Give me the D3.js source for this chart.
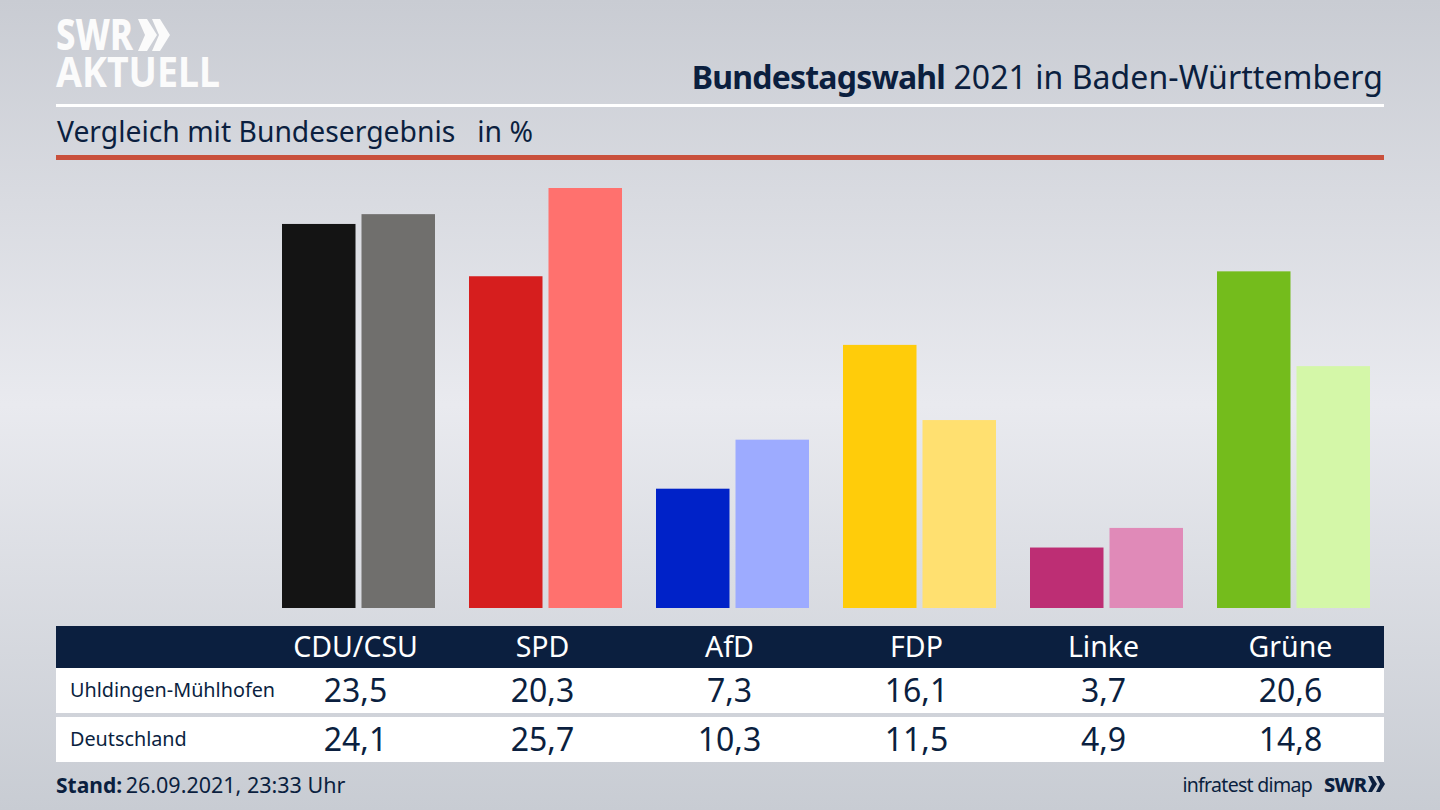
<!DOCTYPE html>
<html lang="de">
<head>
<meta charset="utf-8">
<script src="https://d3js.org/d3.v7.min.js"></script>
<style>
  html, body { margin: 0; padding: 0; background: #d0d3d9; }
  svg { display: block; font-family: "Noto Sans", sans-serif; }
</style>
</head>
<body>
<div id="chart"></div>
<script>
const parties = ['CDU/CSU', 'SPD', 'AfD', 'FDP', 'Linke', 'Grüne'];
const regions = ['Uhldingen-Mühlhofen', 'Deutschland'];
const localValues = [23.5, 20.3, 7.3, 16.1, 3.7, 20.6];
const nationalValues = [24.1, 25.7, 10.3, 11.5, 4.9, 14.8];
const localColors = ['#141414', '#d61e1e', '#0022c8', '#ffcc0a', '#bd2e74', '#74bc1c'];
const nationalColors = ['#706f6d', '#ff716e', '#9dabff', '#ffe070', '#e08ab8', '#d4f7a8'];

const width = 1440, height = 810;
const navy = '#0b1f3f';
const fmt = v => v.toFixed(1).replace('.', ',');

const svg = d3.select('#chart').append('svg')
  .attr('width', width)
  .attr('height', height);

const grad = svg.append('defs').append('linearGradient')
  .attr('id', 'bg').attr('x1', 0).attr('x2', 0).attr('y1', 0).attr('y2', 1);
grad.append('stop').attr('offset', '0%').attr('stop-color', '#c9ccd3');
grad.append('stop').attr('offset', '50%').attr('stop-color', '#e9eaef');
grad.append('stop').attr('offset', '100%').attr('stop-color', '#c8ccd3');
svg.append('rect').attr('width', width).attr('height', height).attr('fill', 'url(#bg)');

// logo
const logo = svg.append('g').attr('fill', '#fbfbfb');
logo.append('text').attr('x', 56).attr('y', 50)
  .attr('textLength', 77).attr('lengthAdjust', 'spacingAndGlyphs')
  .style('font-size', '42px').style('font-weight', 800)
  .text('SWR');
logo.append('text').attr('x', 56).attr('y', 87)
  .attr('textLength', 164).attr('lengthAdjust', 'spacingAndGlyphs')
  .style('font-size', '42px').style('font-weight', 700)
  .text('AKTUELL');
logo.append('path').attr('d', 'M138 19h9l10 16-10 16h-9l7-16zM152 19h8l10 16-10 16h-8l7-16z');

// header
svg.append('text').attr('x', 1383).attr('y', 89).attr('text-anchor', 'end')
  .attr('fill', navy).style('font-size', '32px')
  .call(t => t.append('tspan').style('font-weight', 700).style('letter-spacing', '-0.8px').text('Bundestagswahl'))
  .call(t => t.append('tspan').style('letter-spacing', '0.05px').text(' 2021 in Baden-Württemberg'));
svg.append('rect').attr('x', 56).attr('y', 104).attr('width', 1328).attr('height', 3).attr('fill', '#fff');
svg.append('text').attr('x', 57).attr('y', 142).attr('fill', navy).style('font-size', '28.3px')
  .attr('xml:space', 'preserve').text('Vergleich mit Bundesergebnis   in %');
svg.append('rect').attr('x', 56).attr('y', 155).attr('width', 1328).attr('height', 5).attr('fill', '#c9503c');

// bars
const x = d3.scaleBand().domain(parties).range([282, 1370]).paddingInner(34 / 187).paddingOuter(0);
const xInner = d3.scaleBand().domain([0, 1]).range([0, x.bandwidth()]).paddingInner(6 / 79.5);
const y = d3.scaleLinear().domain([0, 25.7]).range([608, 188]);

const groups = svg.append('g').selectAll('g').data(parties).join('g')
  .attr('transform', d => `translate(${x(d)},0)`);
groups.each(function(p, i) {
  const bars = [
    { v: localValues[i], c: localColors[i] },
    { v: nationalValues[i], c: nationalColors[i] }
  ];
  d3.select(this).selectAll('rect').data(bars).join('rect')
    .attr('x', (d, j) => xInner(j))
    .attr('y', d => y(d.v))
    .attr('width', xInner.bandwidth())
    .attr('height', d => y(0) - y(d.v))
    .attr('fill', d => d.c);
});

// table
const colX = p => x(p) + xInner.bandwidth();
svg.append('rect').attr('x', 56).attr('y', 626).attr('width', 1328).attr('height', 42).attr('fill', navy);
const rows = [
  { label: regions[0], values: localValues, top: 668, h: 45, labelY: 697, valueY: 702 },
  { label: regions[1], values: nationalValues, top: 717, h: 45, labelY: 746, valueY: 751 }
];
svg.append('g').selectAll('rect').data(rows).join('rect')
  .attr('x', 56).attr('y', d => d.top).attr('width', 1328).attr('height', d => d.h).attr('fill', '#fff');
svg.append('g').selectAll('text').data(rows).join('text')
  .attr('x', 70).attr('y', d => d.labelY).attr('fill', navy)
  .style('font-size', '19.8px').text(d => d.label);
svg.append('g').selectAll('text').data(parties).join('text')
  .attr('x', colX).attr('y', 657).attr('text-anchor', 'middle')
  .attr('fill', '#fff').style('font-size', '28.5px').text(d => d);
rows.forEach(r => {
  svg.append('g').selectAll('text').data(parties).join('text')
    .attr('x', colX).attr('y', r.valueY).attr('text-anchor', 'middle')
    .attr('fill', navy).style('font-size', '32px')
    .text((d, i) => fmt(r.values[i]));
});

// footer
svg.append('text').attr('x', 56).attr('y', 793).attr('fill', navy).style('font-size', '21px')
  .call(t => t.append('tspan').style('font-weight', 700).text('Stand:'))
  .call(t => t.append('tspan').attr('dx', -2).style('font-size', '21.5px').text(' 26.09.2021, 23:33 Uhr'));
svg.append('text').attr('x', 1312).attr('y', 792).attr('text-anchor', 'end')
  .attr('fill', navy).style('font-size', '19.5px').style('letter-spacing', '-0.7px').text('infratest dimap');
svg.append('text').attr('x', 1324).attr('y', 792).attr('fill', navy)
  .style('font-size', '20px').style('font-weight', 800).style('letter-spacing', '-0.8px').text('SWR');
svg.append('path').attr('fill', navy)
  .attr('d', 'M1368 776h4l5 8-5 8h-4l4-8zM1376 776h4l5 8-5 8h-4l4-8z');
</script>
</body>
</html>
